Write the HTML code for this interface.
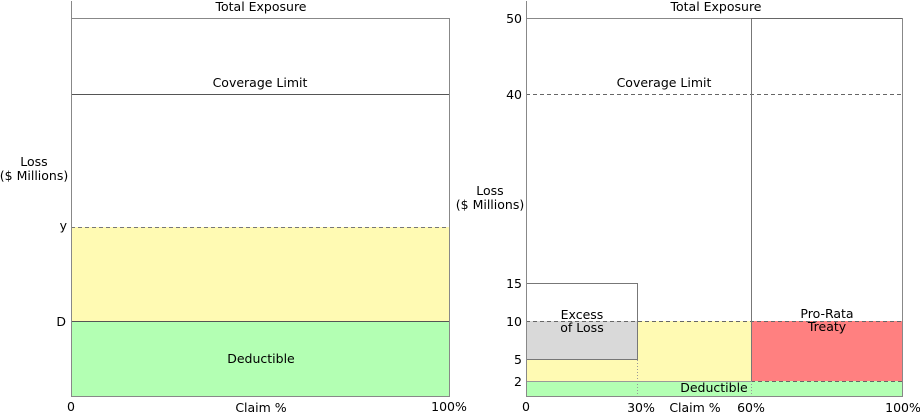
<!DOCTYPE html>
<html><head><meta charset="utf-8"><style>
html,body{margin:0;padding:0;background:#fff;}
svg{display:block;}
text{font-family:"DejaVu Sans","Liberation Sans",sans-serif;font-size:12.5px;fill:#000;}
</style></head><body>
<svg width="920" height="412" viewBox="0 0 920 412" xmlns="http://www.w3.org/2000/svg">
<rect x="71" y="227" width="378" height="94" fill="#fffab3"/>
<rect x="71" y="321" width="378" height="75" fill="#b3ffb3"/>
<line x1="71" y1="18.5" x2="449" y2="18.5" stroke="#888" stroke-width="1"/>
<line x1="71" y1="94.5" x2="449" y2="94.5" stroke="#555" stroke-width="1"/>
<line x1="71" y1="227.5" x2="449" y2="227.5" stroke="#777" stroke-width="1" stroke-dasharray="4,3"/>
<line x1="71" y1="321.5" x2="449" y2="321.5" stroke="#555" stroke-width="1"/>
<line x1="449.5" y1="18" x2="449.5" y2="396" stroke="#888" stroke-width="1"/>
<line x1="71.5" y1="1" x2="71.5" y2="397" stroke="#888" stroke-width="1"/>
<line x1="71" y1="396.5" x2="450" y2="396.5" stroke="#888" stroke-width="1"/>
<text x="261" y="11" text-anchor="middle">Total Exposure</text>
<text x="260" y="87" text-anchor="middle">Coverage Limit</text>
<text x="34" y="166" text-anchor="middle">Loss</text>
<text x="34" y="180" text-anchor="middle">($ Millions)</text>
<text x="67" y="230" text-anchor="end">y</text>
<text x="66" y="326" text-anchor="end">D</text>
<text x="261" y="363" text-anchor="middle">Deductible</text>
<text x="71" y="411" text-anchor="middle">0</text>
<text x="261" y="412" text-anchor="middle">Claim %</text>
<text x="449" y="411" text-anchor="middle">100%</text>

<rect x="526" y="321" width="225" height="60" fill="#fffab3"/>
<rect x="526" y="321" width="111" height="38" fill="#d9d9d9"/>
<rect x="751" y="321" width="151" height="60" fill="#ff8080"/>
<rect x="526" y="381" width="376" height="15" fill="#b3ffb3"/>
<line x1="526" y1="18.5" x2="902" y2="18.5" stroke="#888" stroke-width="1"/>
<line x1="526" y1="94.5" x2="902" y2="94.5" stroke="#666" stroke-width="1" stroke-dasharray="4,3"/>
<line x1="526" y1="321.5" x2="902" y2="321.5" stroke="#666" stroke-width="1" stroke-dasharray="4,3"/>
<line x1="751" y1="381.5" x2="902" y2="381.5" stroke="#666" stroke-width="1" stroke-dasharray="4,3"/>
<line x1="526" y1="381.5" x2="751" y2="381.5" stroke="#999" stroke-width="1"/>
<polyline points="526,283.5 637.5,283.5 637.5,359.5 526,359.5" fill="none" stroke="#777" stroke-width="1"/>
<line x1="637.5" y1="360" x2="637.5" y2="396" stroke="#999" stroke-width="1" stroke-dasharray="1,2"/>
<line x1="751.5" y1="381" x2="751.5" y2="396" stroke="#999" stroke-width="1" stroke-dasharray="1,2"/>
<line x1="751.5" y1="18" x2="751.5" y2="381" stroke="#777" stroke-width="1"/>
<line x1="751" y1="18.5" x2="902" y2="18.5" stroke="#666" stroke-width="1"/>
<line x1="902.5" y1="18" x2="902.5" y2="396" stroke="#888" stroke-width="1"/>
<line x1="526.5" y1="1" x2="526.5" y2="397" stroke="#888" stroke-width="1"/>
<line x1="526" y1="396.5" x2="903" y2="396.5" stroke="#888" stroke-width="1"/>
<text x="716" y="11" text-anchor="middle">Total Exposure</text>
<text x="664" y="87" text-anchor="middle">Coverage Limit</text>
<text x="490" y="195" text-anchor="middle">Loss</text>
<text x="490" y="209" text-anchor="middle">($ Millions)</text>
<text x="522" y="23" text-anchor="end">50</text>
<text x="522" y="99" text-anchor="end">40</text>
<text x="522" y="288" text-anchor="end">15</text>
<text x="522" y="326" text-anchor="end">10</text>
<text x="522" y="364" text-anchor="end">5</text>
<text x="522" y="386" text-anchor="end">2</text>
<text x="582" y="319" text-anchor="middle">Excess</text>
<text x="582" y="332" text-anchor="middle">of Loss</text>
<text x="827" y="318" text-anchor="middle">Pro-Rata</text>
<text x="827" y="331" text-anchor="middle">Treaty</text>
<text x="714" y="392" text-anchor="middle">Deductible</text>
<text x="526" y="411" text-anchor="middle">0</text>
<text x="641" y="412" text-anchor="middle">30%</text>
<text x="695" y="412" text-anchor="middle">Claim %</text>
<text x="751" y="412" text-anchor="middle">60%</text>
<text x="903" y="412" text-anchor="middle">100%</text>
</svg>
</body></html>
